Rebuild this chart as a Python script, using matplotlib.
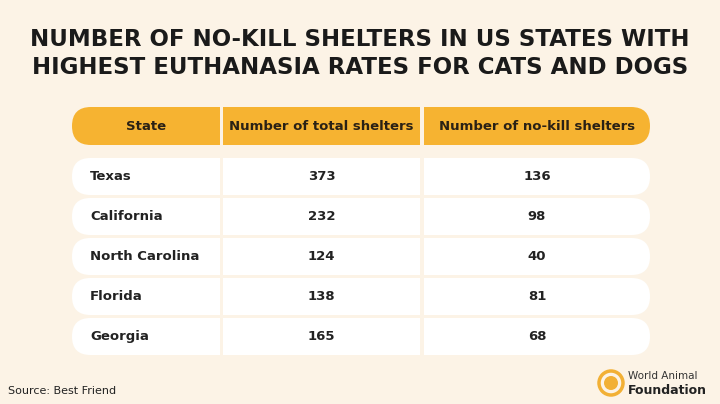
import matplotlib
matplotlib.use("Agg")
import matplotlib.pyplot as plt
from matplotlib.patches import FancyBboxPatch, Rectangle, Circle

states = ["Texas", "California", "North Carolina", "Florida", "Georgia"]
total_shelters = [373, 232, 124, 138, 165]
nokill_shelters = [136, 98, 40, 81, 68]
headers = ["State", "Number of total shelters", "Number of no-kill shelters"]

BG = "#fcf3e6"
OR = "#f6b331"
fig = plt.figure(figsize=(7.2, 4.04), dpi=100, facecolor=BG)
ax = fig.add_axes([0, 0, 1, 1])
ax.set_xlim(0, 720); ax.set_ylim(404, 0); ax.axis("off")

ax.text(360, 40, "NUMBER OF NO-KILL SHELTERS IN US STATES WITH", ha="center", va="center",
        fontsize=16.5, fontweight="heavy", color="#1a1a1a")
ax.text(360, 68, "HIGHEST EUTHANASIA RATES FOR CATS AND DOGS", ha="center", va="center",
        fontsize=16.5, fontweight="heavy", color="#1a1a1a")

cols = [(72, 220), (223, 420), (424, 650)]

def cell(x0, x1, y0, y1, color, side):
    h = y1 - y0
    ax.add_patch(FancyBboxPatch((x0, y0), x1 - x0, h, boxstyle=f"round,pad=0,rounding_size={h/2}",
                                fc=color, ec="none"))
    if side == "left":
        ax.add_patch(Rectangle(((x0 + x1) / 2, y0), (x1 - x0) / 2, h, fc=color, ec="none"))
    elif side == "right":
        ax.add_patch(Rectangle((x0, y0), (x1 - x0) / 2, h, fc=color, ec="none"))
    else:
        ax.add_patch(Rectangle((x0, y0), x1 - x0, h, fc=color, ec="none"))

sides = ["left", "mid", "right"]
for i, (c, s) in enumerate(zip(cols, sides)):
    cell(c[0], c[1], 107, 145, OR, s)
    ax.text((c[0] + c[1]) / 2, 126, headers[i], ha="center", va="center",
            fontsize=9.5, fontweight="bold", color="#2a2115")

for r, (st, t, n) in enumerate(zip(states, total_shelters, nokill_shelters)):
    y0 = 158 + 40 * r
    for i, (c, s) in enumerate(zip(cols, sides)):
        cell(c[0], c[1], y0, y0 + 37, "white", s)
    yc = y0 + 18.5
    ax.text(90, yc, st, ha="left", va="center", fontsize=9.5, fontweight="bold", color="#222222")
    ax.text((cols[1][0] + cols[1][1]) / 2, yc, str(t), ha="center", va="center",
            fontsize=9.5, fontweight="bold", color="#222222")
    ax.text((cols[2][0] + cols[2][1]) / 2, yc, str(n), ha="center", va="center",
            fontsize=9.5, fontweight="bold", color="#222222")

ax.text(8, 391, "Source: Best Friend", ha="left", va="center", fontsize=8, color="#222222")
ax.add_patch(Circle((611, 383), 12, fc="none", ec="#f2b035", lw=2.5))
ax.add_patch(Circle((611, 383), 7, fc="#f2b035", ec="none"))
ax.text(628, 376, "World Animal", ha="left", va="center", fontsize=7.5, color="#333333")
ax.text(628, 390, "Foundation", ha="left", va="center", fontsize=9, fontweight="bold", color="#222222")

fig.savefig("out.png", dpi=100, facecolor=BG)
